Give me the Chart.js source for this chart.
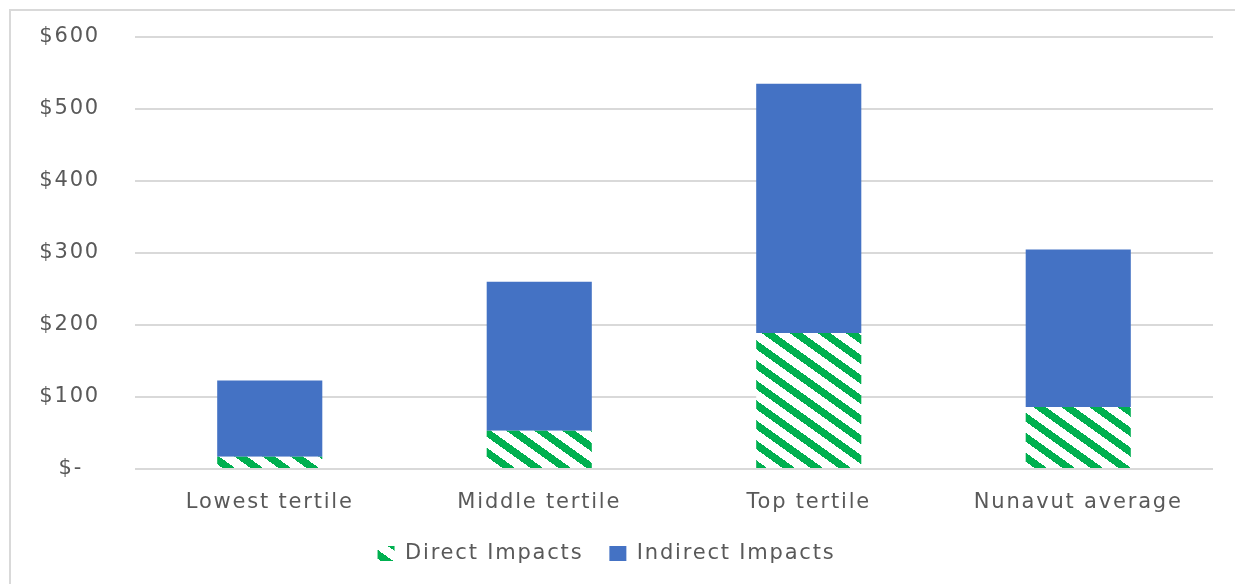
<!DOCTYPE html>
<html>
<head>
<meta charset="utf-8">
<script src="https://cdn.jsdelivr.net/npm/chart.js@4/dist/chart.umd.min.js"></script>
<style>
  html, body { margin: 0; padding: 0; background: #fff; overflow: hidden; }
  #moldura { position: absolute; left: 9px; top: 9px; width: 1240px; height: 590px;
             border-left: 2px solid #d9d9d9; border-top: 2px solid #d9d9d9; }
  #caixa { position: absolute; left: 0; top: 0; width: 1235px; height: 584px; }
</style>
</head>
<body>
<div id="moldura"></div>
<div id="caixa"><canvas id="grafico"></canvas></div>
<script>
// --- DADOS ---
const categorias = ["Lowest tertile", "Middle tertile", "Top tertile", "Nunavut average"];
const impactosDiretos = [17, 53, 189, 86];
const impactosIndiretos = [106, 207, 346, 219];
const ticksY = [0, 100, 200, 300, 400, 500, 600];

const CINZA_TEXTO = "#595959";
const FONTE = "'DejaVu Sans', sans-serif";
const ESPACO_LETRAS = "1.8px"; // o texto original é mais "esticado"

// padrão listrado verde (diagonal descendente)
function criarListras() {
    const w = 28, h = 20;
    const c = document.createElement("canvas");
    c.width = w; c.height = h;
    const g = c.getContext("2d");
    const img = g.createImageData(w, h);
    for (let y = 0; y < h; y++) {
        for (let x = 0; x < w; x++) {
            let t = (y - x * h / w) % h;
            if (t < 0) t += h;
            const i = (y * w + x) * 4;
            if (t < 9) {
                img.data[i] = 0; img.data[i + 1] = 176; img.data[i + 2] = 80;
            } else {
                img.data[i] = 255; img.data[i + 1] = 255; img.data[i + 2] = 255;
            }
            img.data[i + 3] = 255;
        }
    }
    g.putImageData(img, 0, 0);
    return document.getElementById("grafico").getContext("2d").createPattern(c, "repeat");
}

const listras = criarListras();

// aplica espaçamento entre letras antes de medir e desenhar
const pluginEspaco = {
    id: "espaco",
    beforeLayout: (chart) => { chart.ctx.letterSpacing = ESPACO_LETRAS; },
    beforeDraw: (chart) => { chart.ctx.letterSpacing = ESPACO_LETRAS; }
};

new Chart(document.getElementById("grafico"), {
    type: "bar",
    data: {
        labels: categorias,
        datasets: [
            {
                label: "Direct Impacts",
                data: impactosDiretos,
                backgroundColor: listras,
                barPercentage: 0.39,
                categoryPercentage: 1
            },
            {
                label: "Indirect Impacts",
                data: impactosIndiretos,
                backgroundColor: "#4472c4",
                barPercentage: 0.39,
                categoryPercentage: 1
            }
        ]
    },
    plugins: [pluginEspaco],
    options: {
        responsive: true,
        maintainAspectRatio: false,
        animation: false,
        layout: { padding: { top: 37, right: 22, left: 0, bottom: 17 } },
        scales: {
            x: {
                stacked: true,
                grid: { display: false, drawTicks: false },
                border: { display: false },
                ticks: { color: CINZA_TEXTO, font: { family: FONTE, size: 21 }, padding: 21 },
                afterFit: (eixo) => { eixo.height = 48; }
            },
            y: {
                stacked: true,
                min: 0,
                max: 600,
                afterBuildTicks: (eixo) => { eixo.ticks = ticksY.map(v => ({ value: v })); },
                grid: { color: "#d9d9d9", lineWidth: 2, drawTicks: false },
                border: { display: false },
                ticks: {
                    color: CINZA_TEXTO,
                    font: { family: FONTE, size: 21 },
                    padding: 35,
                    callback: (v) => v === 0 ? "$-  " : "$" + v
                },
                afterFit: (eixo) => {
                    eixo.width = 135;
                    // o padding dos ticks não deve empurrar a área do gráfico
                    eixo.paddingTop = 0;
                    eixo.paddingBottom = 0;
                }
            }
        },
        plugins: {
            tooltip: { enabled: false },
            legend: {
                position: "bottom",
                maxHeight: 50,
                labels: {
                    color: CINZA_TEXTO,
                    font: { family: FONTE, size: 21 },
                    boxWidth: 17,
                    boxHeight: 15,
                    padding: 26
                }
            }
        }
    }
});
</script>
</body>
</html>
